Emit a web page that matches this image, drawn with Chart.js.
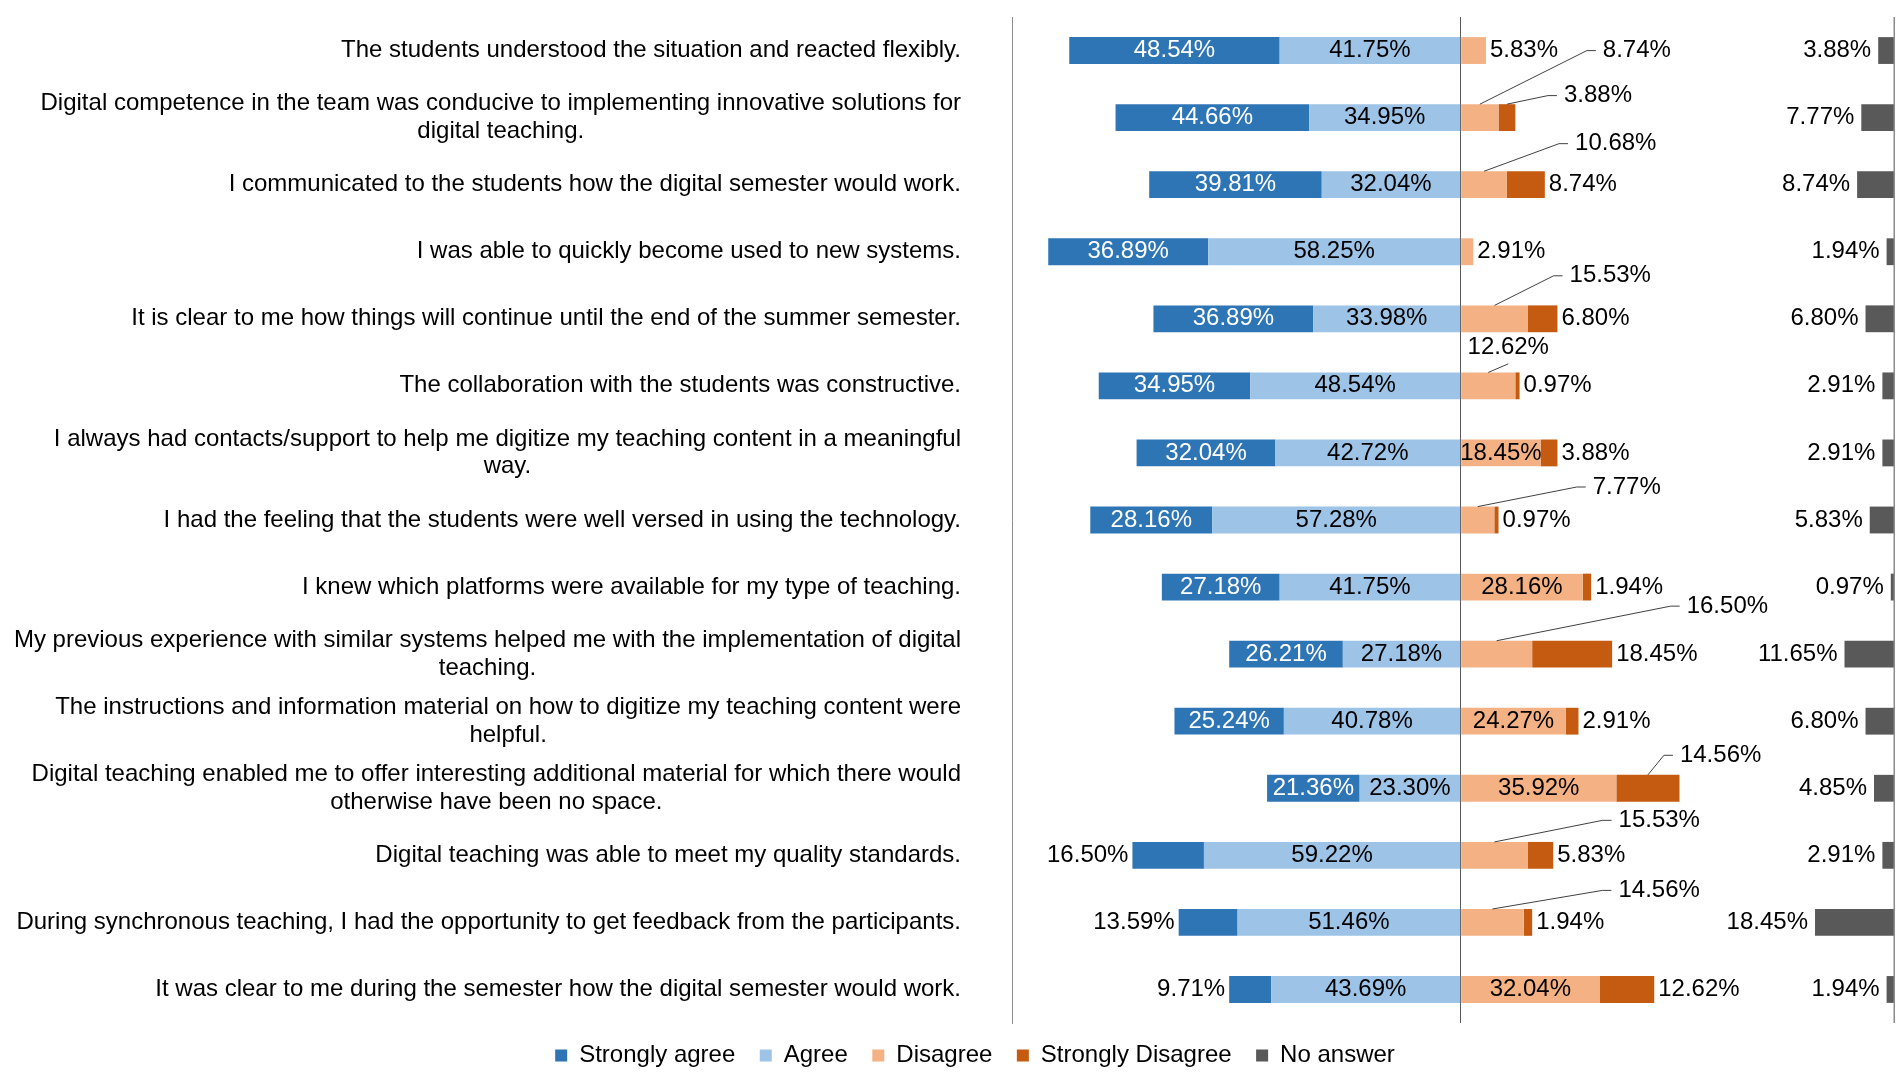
<!DOCTYPE html>
<html>
<head>
<meta charset="utf-8">
<title>Digital semester survey</title>
<script src="https://cdn.jsdelivr.net/npm/chart.js@4.4.1/dist/chart.umd.min.js"></script>
<style>
  html, body { margin: 0; padding: 0; background: #fff; }
  #wrap { width: 1902px; height: 1088px; position: relative; }
</style>
</head>
<body>
<div id="wrap"><canvas id="myChart"></canvas></div>
<script>
/* ---------- DATA ---------- */
const categories = [
  "The students understood the situation and reacted flexibly.",
  ["Digital competence in the team was conducive to implementing innovative solutions for", "digital teaching."],
  "I communicated to the students how the digital semester would work.",
  "I was able to quickly become used to new systems.",
  "It is clear to me how things will continue until the end of the summer semester.",
  "The collaboration with the students was constructive.",
  ["I always had contacts/support to help me digitize my teaching content in a meaningful", "way."],
  "I had the feeling that the students were well versed in using the technology.",
  "I knew which platforms were available for my type of teaching.",
  ["My previous experience with similar systems helped me with the implementation of digital", "teaching."],
  ["The instructions and information material on how to digitize my teaching content were", "helpful."],
  ["Digital teaching enabled me to offer interesting additional material for which there would", "otherwise have been no space."],
  "Digital teaching was able to meet my quality standards.",
  "During synchronous teaching, I had the opportunity to get feedback from the participants.",
  "It was clear to me during the semester how the digital semester would work."
];

const stronglyAgree    = [48.54, 44.66, 39.81, 36.89, 36.89, 34.95, 32.04, 28.16, 27.18, 26.21, 25.24, 21.36, 16.50, 13.59, 9.71];
const agree            = [41.75, 34.95, 32.04, 58.25, 33.98, 48.54, 42.72, 57.28, 41.75, 27.18, 40.78, 23.30, 59.22, 51.46, 43.69];
const disagree         = [5.83, 8.74, 10.68, 2.91, 15.53, 12.62, 18.45, 7.77, 28.16, 16.50, 24.27, 35.92, 15.53, 14.56, 32.04];
const stronglyDisagree = [0, 3.88, 8.74, 0, 6.80, 0.97, 3.88, 0.97, 1.94, 18.45, 2.91, 14.56, 5.83, 1.94, 12.62];
const noAnswer         = [3.88, 7.77, 8.74, 1.94, 6.80, 2.91, 2.91, 5.83, 0.97, 11.65, 6.80, 4.85, 2.91, 18.45, 1.94];

const legendOrder = ["Strongly agree", "Agree", "Disagree", "Strongly Disagree", "No answer"];

/* ---------- STYLE ---------- */
const FAMILY = "'Liberation Sans', Arial, sans-serif";
const FONT = "24px " + FAMILY;
const X_MIN = -103.5;
const X_MAX = 100.2;
const colors = {
  stronglyAgree: "#2e75b6",
  agree: "#9dc3e6",
  disagree: "#f4b183",
  stronglyDisagree: "#c55a11",
  noAnswer: "#595959"
};

// labels that Excel moved off the bar, with a leader line (offsets in px from segment centre / row centre)
const callouts = {
  "1:disagree": { dx: 123, dy: -67 },
  "1:stronglyDisagree": { dx: 57, dy: -22 },
  "2:disagree": { dx: 91, dy: -41 },
  "4:disagree": { dx: 75, dy: -43 },
  "5:disagree": { dx: 20, dy: -38, above: true },
  "7:disagree": { dx: 115, dy: -33 },
  "9:disagree": { dx: 190, dy: -48 },
  "11:stronglyDisagree": { dx: 32, dy: -33 },
  "12:disagree": { dx: 124, dy: -35 },
  "13:disagree": { dx: 126, dy: -32 }
};

const fmt = v => v.toFixed(2) + "%";

/* ---------- CATEGORY LABELS + FRAME ---------- */
const categoryLabels = {
  id: "categoryLabels",
  afterLayout(chart) {
    // Excel's legend sits a bit higher than Chart.js puts it
    if (chart.legend) {
      chart.legend.top -= 4;
      chart.legend.bottom -= 4;
    }
  },
  afterDraw(chart) {
    const { ctx, chartArea } = chart;
    const y = chart.scales.y;
    ctx.save();

    // right frame line
    ctx.strokeStyle = "#8c8c8c";
    ctx.lineWidth = 1.5;
    ctx.beginPath();
    ctx.moveTo(chartArea.right - 0.75, chartArea.top);
    ctx.lineTo(chartArea.right - 0.75, chartArea.bottom);
    ctx.stroke();

    ctx.font = FONT;
    ctx.fillStyle = "#000";
    ctx.textBaseline = "middle";
    ctx.textAlign = "center";
    const right = chartArea.left - 51;
    const lineH = 27.5;
    categories.forEach((label, i) => {
      const lines = Array.isArray(label) ? label : [label];
      const w = Math.max(...lines.map(l => ctx.measureText(l).width));
      const cx = right - w / 2;
      const cy = y.getPixelForValue(i);
      lines.forEach((line, k) => {
        ctx.fillText(line, cx, cy + (k - (lines.length - 1) / 2) * lineH);
      });
    });
    ctx.restore();
  }
};

/* ---------- BAR LABELS ---------- */
function drawCallout(ctx, c, mid, top, cy, text) {
  const lx = mid + c.dx;
  const ly = cy + c.dy;
  ctx.beginPath();
  ctx.moveTo(mid, top);
  if (c.above) {
    ctx.lineTo(lx, ly + 16);
  } else {
    ctx.lineTo(lx - 16, ly);
    ctx.lineTo(lx - 7, ly);
  }
  ctx.stroke();
  ctx.fillStyle = "#000";
  ctx.textAlign = c.above ? "center" : "left";
  ctx.fillText(text, lx, ly);
}

const barLabels = {
  id: "barLabels",
  afterDatasetsDraw(chart) {
    const ctx = chart.ctx;
    ctx.save();
    ctx.font = FONT;
    ctx.textBaseline = "middle";
    ctx.strokeStyle = "#404040";
    ctx.lineWidth = 1;
    chart.data.datasets.forEach((ds, di) => {
      const meta = chart.getDatasetMeta(di);
      meta.data.forEach((bar, i) => {
        const v = Math.abs(ds.data[i]);
        if (!v) return;
        const text = fmt(v);
        const left = Math.min(bar.x, bar.base);
        const right = Math.max(bar.x, bar.base);
        const mid = (left + right) / 2;
        const top = bar.y - bar.height / 2;
        const c = callouts[i + ":" + ds.key];
        ctx.fillStyle = "#000";

        if (c) {
          drawCallout(ctx, c, mid, top, bar.y, text);
        } else if (ds.key === "stronglyAgree") {
          if (v >= 20) {
            ctx.fillStyle = "#fff";
            ctx.textAlign = "center";
            ctx.fillText(text, mid, bar.y);
          } else {
            ctx.textAlign = "right";
            ctx.fillText(text, left - 4, bar.y);
          }
        } else if (ds.key === "agree") {
          ctx.textAlign = "center";
          ctx.fillText(text, mid, bar.y);
        } else if (ds.key === "disagree" && v >= 18) {
          ctx.textAlign = "center";
          ctx.fillText(text, mid, bar.y);
        } else if (ds.key === "noAnswer") {
          ctx.textAlign = "right";
          ctx.fillText(text, left - 7, bar.y);
        } else {
          ctx.textAlign = "left";
          ctx.fillText(text, right + 4, bar.y);
        }
      });
    });
    ctx.restore();
  }
};

/* ---------- CHART ---------- */
Chart.defaults.font.family = FAMILY;

const common = { stack: "all", barPercentage: 0.4, categoryPercentage: 1.0, borderWidth: 0 };

new Chart(document.getElementById("myChart"), {
  type: "bar",
  data: {
    labels: categories,
    datasets: [
      { ...common, key: "agree", label: "Agree", data: agree.map(v => -v), backgroundColor: colors.agree },
      { ...common, key: "stronglyAgree", label: "Strongly agree", data: stronglyAgree.map(v => -v), backgroundColor: colors.stronglyAgree },
      { ...common, key: "disagree", label: "Disagree", data: disagree, backgroundColor: colors.disagree },
      { ...common, key: "stronglyDisagree", label: "Strongly Disagree", data: stronglyDisagree, backgroundColor: colors.stronglyDisagree },
      { ...common, key: "noAnswer", label: "No answer", data: noAnswer, backgroundColor: colors.noAnswer, xAxisID: "x2" }
    ]
  },
  options: {
    indexAxis: "y",
    responsive: true,
    maintainAspectRatio: false,
    animation: false,
    layout: { padding: { top: 17, right: 7, bottom: 6.5, left: 55 } },
    plugins: {
      tooltip: { enabled: false },
      legend: {
        position: "bottom",
        labels: {
          font: { family: FAMILY, size: 24 },
          color: "#000",
          boxWidth: 12,
          boxHeight: 12,
          padding: 24.5,
          sort: (a, b) => legendOrder.indexOf(a.text) - legendOrder.indexOf(b.text)
        }
      }
    },
    scales: {
      y: {
        stacked: true,
        grid: { display: false, drawTicks: false },
        ticks: { display: false },
        border: { display: true, color: "#8c8c8c", width: 1 },
        afterFit: s => { s.width = 957; }
      },
      x: {
        stacked: true,
        min: X_MIN,
        max: X_MAX,
        ticks: { display: false, stepSize: 50 },
        grid: {
          drawTicks: false,
          color: c => (c.tick && c.tick.value === 0 ? "#595959" : "transparent")
        },
        border: { display: false },
        afterFit: s => { s.height = 0; }
      },
      x2: {
        stacked: true,
        display: false,
        reverse: true,
        min: 0,
        max: X_MAX - X_MIN
      }
    }
  },
  plugins: [categoryLabels, barLabels]
});
</script>
</body>
</html>
